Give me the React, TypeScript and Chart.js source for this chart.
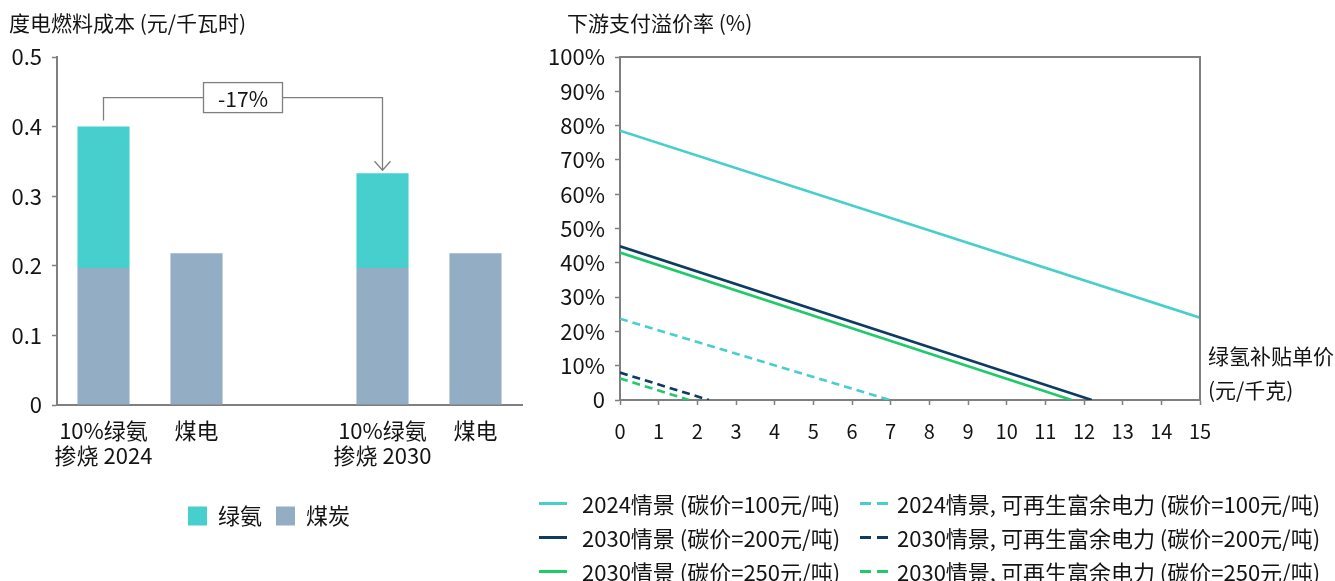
import React, { useEffect, useRef } from 'react';
import { Chart, registerables } from 'chart.js';

Chart.register(...registerables);

const FONT = '"Noto Sans CJK SC", "Noto Sans", sans-serif';

// ---------- Left chart data ----------
const costCategories = [['10%绿氨', '掺烧 2024'], '煤电', '', ['10%绿氨', '掺烧 2030'], '煤电'];
const coalCost = [0.197, 0.218, null, 0.197, 0.218];
const ammoniaCost = [0.203, null, null, 0.136, null];
const costSeriesNames = ['煤炭', '绿氨'];
const costTitle = '度电燃料成本 (元/千瓦时)';
const changeLabel = '-17%';

// ---------- Right chart data ----------
const premiumTitle = '下游支付溢价率 (%)';
const subsidyAxisTitle = ['绿氢补贴单价', '(元/千克)'];
const seriesNames = [
  '2024情景 (碳价=100元/吨)',
  '2024情景, 可再生富余电力 (碳价=100元/吨)',
  '2030情景 (碳价=200元/吨)',
  '2030情景, 可再生富余电力 (碳价=200元/吨)',
  '2030情景 (碳价=250元/吨)',
  '2030情景, 可再生富余电力 (碳价=250元/吨)',
];
// subsidy (元/千克) endpoints and premium (fraction) endpoints
const s2024X = [0, 15];
const s2024Y = [0.785, 0.24];
const d2024X = [0, 6.98];
const d2024Y = [0.237, 0];
const s2030aX = [0, 12.2];
const s2030aY = [0.448, 0];
const d2030aX = [0, 2.3];
const d2030aY = [0.08, 0];
const s2030bX = [0, 11.68];
const s2030bY = [0.43, 0];
const d2030bX = [0, 1.78];
const d2030bY = [0.063, 0];

const TEAL = '#46CFCC';
const NAVY = '#0D3B61';
const GREEN = '#20CA6A';
const COAL = '#93ADC4';
const AXIS = '#7F7F7F';
const TEXT = '#141414';

const seriesColors = [TEAL, TEAL, NAVY, NAVY, GREEN, GREEN];
const seriesDashed = [false, true, false, true, false, true];
const seriesX = [s2024X, d2024X, s2030aX, d2030aX, s2030bX, d2030bX];
const seriesY = [s2024Y, d2024Y, s2030aY, d2030aY, s2030bY, d2030bY];

const textPlugin = {
  id: 'freeText',
  afterDraw(chart: any, _args: any, opts: any) {
    const ctx = chart.ctx;
    ctx.save();
    ctx.fillStyle = TEXT;
    ctx.textBaseline = 'middle';
    ctx.textAlign = 'left';
    for (const item of opts.items || []) {
      ctx.font = `${item.size || 18}px ${FONT}`;
      ctx.fillText(item.text, item.x, item.y);
    }
    ctx.restore();
  },
};

const legendShiftPlugin = {
  id: 'legendShift',
  afterLayout(chart: any) {
    if (chart.legend) {
      chart.legend.left += 8;
      chart.legend.right += 8;
    }
  },
};

const bracketPlugin = {
  id: 'bracket',
  afterDatasetsDraw(chart: any) {
    const { ctx } = chart;
    const xs = chart.scales.x;
    const ys = chart.scales.y;
    const x1 = xs.getPixelForValue(0);
    const x2 = xs.getPixelForValue(3);
    const top1 = ys.getPixelForValue((coalCost[0] as number) + (ammoniaCost[0] as number));
    const top2 = ys.getPixelForValue((coalCost[3] as number) + (ammoniaCost[3] as number));
    const level = top1 - 29;
    ctx.save();
    ctx.strokeStyle = AXIS;
    ctx.lineWidth = 1.3;
    ctx.beginPath();
    ctx.moveTo(x1, top1 - 6);
    ctx.lineTo(x1, level);
    ctx.lineTo(x2, level);
    ctx.lineTo(x2, top2 - 3);
    ctx.stroke();
    ctx.beginPath();
    ctx.moveTo(x2 - 8, top2 - 12);
    ctx.lineTo(x2, top2 - 3);
    ctx.lineTo(x2 + 8, top2 - 12);
    ctx.stroke();
    const cx = (x1 + x2) / 2;
    const w = 79;
    const h = 30;
    ctx.fillStyle = '#fff';
    ctx.fillRect(cx - w / 2, level - h / 2, w, h);
    ctx.strokeRect(cx - w / 2, level - h / 2, w, h);
    ctx.fillStyle = TEXT;
    ctx.font = `21px ${FONT}`;
    ctx.textAlign = 'center';
    ctx.textBaseline = 'middle';
    ctx.fillText(changeLabel, cx, level + 1);
    ctx.restore();
  },
};

const framePlugin = {
  id: 'frame',
  afterDatasetsDraw(chart: any) {
    const { ctx, chartArea } = chart;
    ctx.save();
    ctx.strokeStyle = AXIS;
    ctx.lineWidth = 2;
    ctx.beginPath();
    ctx.moveTo(chartArea.left, chartArea.top);
    ctx.lineTo(chartArea.right, chartArea.top);
    ctx.lineTo(chartArea.right, chartArea.bottom);
    ctx.stroke();
    ctx.restore();
  },
};

export default function App() {
  const leftRef = useRef<HTMLCanvasElement>(null);
  const rightRef = useRef<HTMLCanvasElement>(null);

  useEffect(() => {
    Chart.defaults.font.family = FONT;
    Chart.defaults.color = TEXT;

    const left = new Chart(leftRef.current as HTMLCanvasElement, {
      type: 'bar',
      data: {
        labels: costCategories as any,
        datasets: [
          {
            label: costSeriesNames[0],
            data: coalCost as any,
            backgroundColor: COAL,
            barPercentage: 0.56,
            categoryPercentage: 1,
          },
          {
            label: costSeriesNames[1],
            data: ammoniaCost as any,
            backgroundColor: TEAL,
            barPercentage: 0.56,
            categoryPercentage: 1,
          },
        ],
      },
      options: {
        animation: false,
        responsive: false,
        devicePixelRatio: 1,
        layout: { padding: { top: 57, right: 18, bottom: 8, left: 0 } },
        plugins: {
          legend: {
            position: 'bottom',
            reverse: true,
            labels: {
              boxWidth: 19,
              boxHeight: 19,
              padding: 14,
              font: { size: 22 },
              color: TEXT,
            },
          },
          tooltip: { enabled: false },
          freeText: { items: [{ text: costTitle, x: 9, y: 23, size: 21 }] },
        } as any,
        scales: {
          x: {
            stacked: true,
            grid: { drawOnChartArea: false, drawTicks: false },
            border: { display: true, color: AXIS, width: 2 },
            ticks: { font: { size: 22, lineHeight: 1.15 }, padding: 13, color: TEXT, maxRotation: 0, autoSkip: false },
            afterFit: (s: any) => { s.height = 86; },
          },
          y: {
            stacked: true,
            min: 0,
            max: 0.5,
            grid: { drawOnChartArea: false, drawTicks: true, tickLength: 5, tickColor: AXIS, tickWidth: 1.5 },
            border: { display: true, color: AXIS, width: 2 },
            ticks: {
              stepSize: 0.1,
              font: { size: 22 },
              padding: 10,
              color: TEXT,
              callback: (v: any) => (Number(v) === 0 ? '0' : Number(v).toFixed(1)),
            },
            afterFit: (s: any) => { s.width = 57; },
          },
        },
      },
      plugins: [bracketPlugin, textPlugin, legendShiftPlugin],
    });

    const right = new Chart(rightRef.current as HTMLCanvasElement, {
      type: 'line',
      data: {
        datasets: seriesNames.map((name, i) => ({
          label: name,
          data: seriesX[i].map((x, j) => ({ x, y: seriesY[i][j] })),
          borderColor: seriesColors[i],
          backgroundColor: seriesColors[i],
          borderWidth: 2.6,
          borderDash: seriesDashed[i] ? [8, 5] : [],
          pointRadius: 0,
          tension: 0,
        })),
      },
      options: {
        animation: false,
        responsive: false,
        devicePixelRatio: 1,
        layout: { padding: { top: 57, right: 135, bottom: 0, left: 0 } },
        plugins: {
          legend: { display: false },
          tooltip: { enabled: false },
          freeText: {
            items: [
              { text: premiumTitle, x: 37, y: 23, size: 21 },
              { text: subsidyAxisTitle[0], x: 678, y: 356, size: 21 },
              { text: subsidyAxisTitle[1], x: 678, y: 390, size: 21 },
            ],
          },
        } as any,
        scales: {
          x: {
            type: 'linear',
            min: 0,
            max: 15,
            grid: { drawOnChartArea: false, drawTicks: true, tickLength: 5, tickColor: AXIS, tickWidth: 1.5 },
            border: { display: true, color: AXIS, width: 2 },
            ticks: { stepSize: 1, font: { size: 20 }, padding: 14, color: TEXT, maxRotation: 0 },
            afterFit: (s: any) => { s.height = 80; },
          },
          y: {
            min: 0,
            max: 1,
            grid: { drawOnChartArea: false, drawTicks: true, tickLength: 5, tickColor: AXIS, tickWidth: 1.5 },
            border: { display: true, color: AXIS, width: 2 },
            ticks: {
              stepSize: 0.1,
              font: { size: 22 },
              padding: 10,
              color: TEXT,
              callback: (v: any) => {
                const p = Math.round(Number(v) * 100);
                return p === 0 ? '0' : `${p}%`;
              },
            },
            afterFit: (s: any) => { s.width = 90; },
          },
        },
      },
      plugins: [framePlugin, textPlugin],
    });

    return () => {
      left.destroy();
      right.destroy();
    };
  }, []);

  const legendRows = [0, 1, 2];
  const rowY = [503, 537, 571];

  return (
    <div
      style={{
        position: 'absolute',
        left: 0,
        top: 0,
        width: 1335,
        height: 581,
        background: '#fff',
        fontFamily: FONT,
        color: TEXT,
        overflow: 'hidden',
      }}
    >
      <canvas ref={leftRef} width={540} height={545} style={{ position: 'absolute', left: 0, top: 0 }} />
      <canvas ref={rightRef} width={805} height={480} style={{ position: 'absolute', left: 530, top: 0 }} />
      {legendRows.map((r) =>
        [0, 1].map((c) => {
          const idx = r * 2 + c;
          const color = seriesColors[idx];
          const sampleLeft = c === 0 ? 539 : 860;
          const textLeft = c === 0 ? 582 : 897;
          return (
            <React.Fragment key={idx}>
              <div
                style={{
                  position: 'absolute',
                  left: sampleLeft,
                  top: rowY[r] - 1,
                  width: 28,
                  height: 2.6,
                  background: seriesDashed[idx]
                    ? `repeating-linear-gradient(to right, ${color} 0px, ${color} 11px, transparent 11px, transparent 17px)`
                    : color,
                }}
              />
              <div
                style={{
                  position: 'absolute',
                  left: textLeft,
                  top: rowY[r] - 15,
                  height: 30,
                  lineHeight: '30px',
                  fontSize: 22,
                  whiteSpace: 'nowrap',
                }}
              >
                {seriesNames[idx]}
              </div>
            </React.Fragment>
          );
        })
      )}
    </div>
  );
}
